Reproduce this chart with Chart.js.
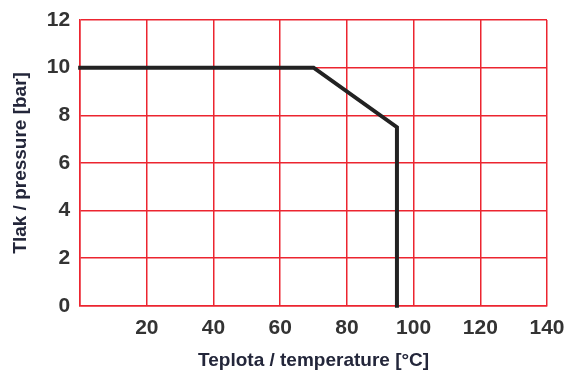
<!DOCTYPE html>
<html>
<head>
<meta charset="utf-8">
<script src="https://cdn.jsdelivr.net/npm/chart.js@4"></script>
<style>
    html, body { margin: 0; padding: 0; background: #fff; }
    #wrap { width: 569px; height: 372px; }
</style>
</head>
<body>
<div id="wrap"><canvas id="pt-chart"></canvas></div>
<script>
// pressure / temperature limit curve
const temperatures = [0, 70, 95, 95];
const pressures = [10, 10, 7.5, 0];
const xTicks = [0, 20, 40, 60, 80, 100, 120, 140];
const yTicks = [0, 2, 4, 6, 8, 10, 12];

const gridRed = '#ec2530';
const titleColor = '#23263a';
const tickColor = '#333333';

const points = temperatures.map((t, i) => ({ x: t, y: pressures[i] }));

new Chart(document.getElementById('pt-chart').getContext('2d'), {
    type: 'scatter',
    data: {
        datasets: [{
            data: points,
            showLine: true,
            borderColor: '#222222',
            borderWidth: 4,
            pointRadius: 0,
            borderJoinStyle: 'miter',
            borderCapStyle: 'square',
            clip: false,
            tension: 0
        }]
    },
    options: {
        responsive: true,
        maintainAspectRatio: false,
        animation: false,
        layout: { padding: { top: 20, right: 22, bottom: 2, left: 9 } },
        plugins: {
            legend: { display: false },
            tooltip: { enabled: false }
        },
        scales: {
            x: {
                type: 'linear',
                min: xTicks[0],
                max: xTicks[xTicks.length - 1],
                afterBuildTicks: axis => { axis.ticks = xTicks.map(v => ({ value: v })); },
                // labels may overhang the plot edges, like in the original
                afterFit: axis => { axis.paddingLeft = 0; axis.paddingRight = 0; },
                grid: { color: gridRed, lineWidth: 1.5, drawTicks: false },
                border: { color: gridRed, width: 1.5 },
                ticks: {
                    padding: 10,
                    color: tickColor,
                    font: { family: 'Liberation Sans, Arial', size: 21, weight: 'bold' },
                    callback: value => value === 0 ? '' : value
                },
                title: {
                    display: true,
                    text: 'Teplota / temperature [°C]',
                    color: titleColor,
                    font: { family: 'Liberation Sans, Arial', size: 19, weight: 'bold', lineHeight: 1 },
                    padding: { top: 0, bottom: 0 }
                }
            },
            y: {
                min: yTicks[0],
                max: yTicks[yTicks.length - 1],
                afterBuildTicks: axis => { axis.ticks = yTicks.map(v => ({ value: v })); },
                afterFit: axis => { axis.paddingTop = 0; axis.paddingBottom = 0; },
                grid: { color: gridRed, lineWidth: 1.5, drawTicks: false },
                border: { color: gridRed, width: 1.5 },
                ticks: {
                    padding: 10,
                    color: tickColor,
                    font: { family: 'Liberation Sans, Arial', size: 21, weight: 'bold' }
                },
                title: {
                    display: true,
                    text: 'Tlak / pressure [bar]',
                    color: titleColor,
                    font: { family: 'Liberation Sans, Arial', size: 19, weight: 'bold' },
                    padding: { top: 0, bottom: 5 }
                }
            }
        }
    }
});
</script>
</body>
</html>
